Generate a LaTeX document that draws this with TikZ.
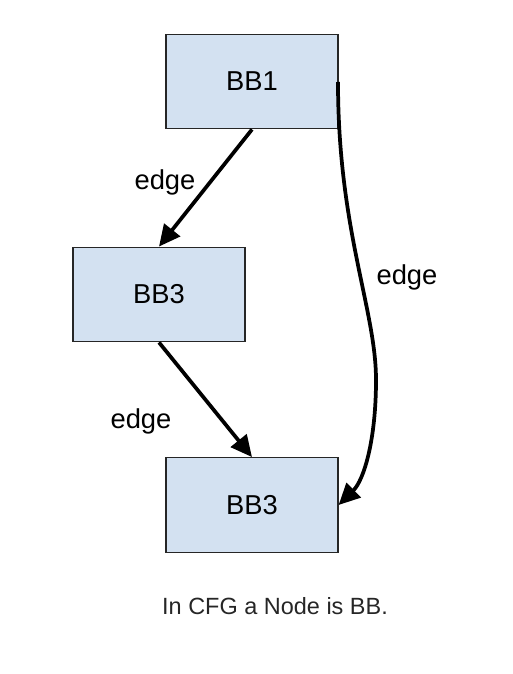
\documentclass[tikz,border=0pt]{standalone}
\usepackage{fontspec}
\setmainfont{Liberation Sans}
\usetikzlibrary{arrows.meta}
\definecolor{bbfill}{HTML}{D3E1F1}
\begin{document}
\begin{tikzpicture}[x=0.75pt, y=-0.75pt,
    bb/.style={draw=black!85, fill=bbfill, line width=0.9pt,
      minimum width=129pt, minimum height=71pt, font=\fontsize{20.5}{23}\selectfont},
    flow/.style={line width=2.8pt, -{Triangle[length=16pt, width=15pt]}},
    lbl/.style={font=\fontsize{20.5}{23}\selectfont}]
    \useasboundingbox (0,0) rectangle (512,674) ;

    \node [bb] (bb1) at (252,81.5) {BB1} ;
    \node [bb] (bb3a) at (159,294.5) {BB3} ;
    \node [bb] (bb3b) at (252,505) {BB3} ;
    \coordinate (out) at (338,82) ;

    \draw [flow] (bb1.south) -- (bb3a.north) ;
    \draw [flow] (bb3a.south) -- (bb3b.north) ;
    \draw [flow] (out) .. controls (338,230) and (376,310) .. (376,380)
      .. controls (376,440) and (364,480) .. (bb3b.east) ;

    \node [lbl] (e1) at (165,182) {edge} ;
    \node [lbl] (e2) at (141,421) {edge} ;
    \node [lbl] (e3) at (407,277) {edge} ;
    \node [font=\fontsize{17.6}{20}\selectfont, text=black!85] (cap) at (275,606)
      {In CFG a Node is BB.} ;
  \end{tikzpicture}
\end{document}
